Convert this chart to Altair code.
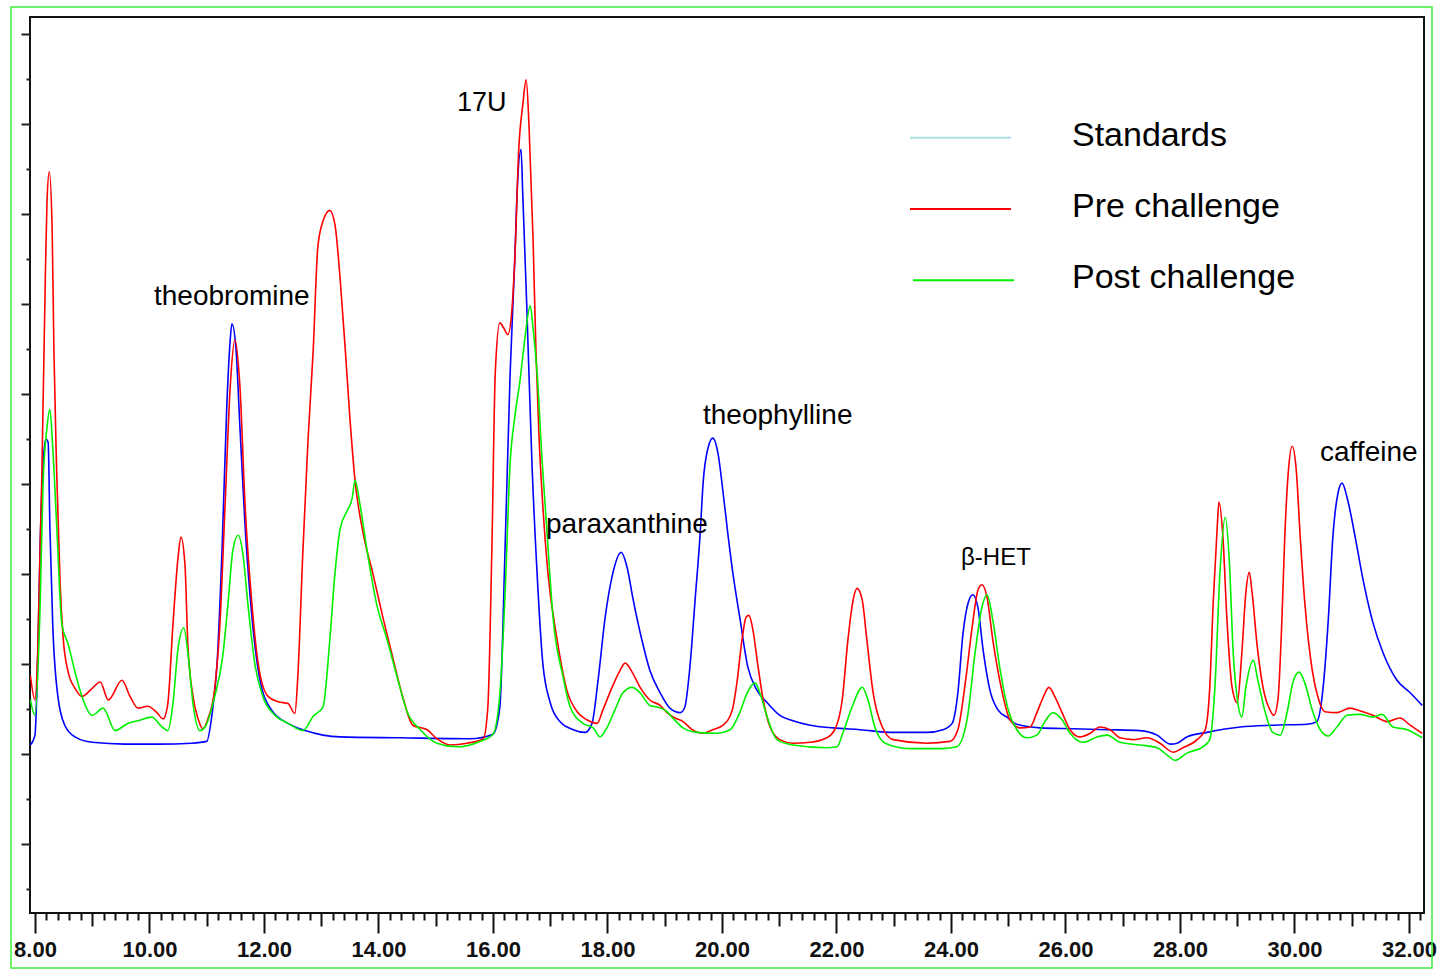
import altair as alt
import pandas as pd

# ---- data (time in min, detector signal in arbitrary units) ----
standards = [
    (7.92, 11.0), (8.00, 12.1), (8.05, 21.3), (8.09, 33.2), (8.14, 42.0), (8.19, 45.0), (8.23, 44.6),
    (8.26, 35.3), (8.31, 24.4), (8.40, 16.4), (8.52, 13.2), (8.70, 11.9), (9.00, 11.3), (9.57, 11.1),
    (10.15, 11.1), (10.74, 11.2), (11.00, 11.4), (11.09, 14.3), (11.18, 20.0), (11.27, 33.2),
    (11.35, 48.6), (11.41, 56.0), (11.44, 57.8), (11.51, 55.1), (11.58, 46.3), (11.67, 35.3),
    (11.79, 25.2), (11.93, 18.2), (12.14, 14.8), (12.42, 13.4), (12.72, 12.6), (13.03, 12.1),
    (13.33, 11.9), (14.38, 11.8), (15.60, 11.7), (16.00, 12.2), (16.12, 15.2), (16.21, 32.6),
    (16.30, 52.4), (16.38, 64.8), (16.42, 72.2), (16.49, 77.2), (16.52, 72.2), (16.59, 59.8),
    (16.68, 42.4), (16.77, 30.1), (16.87, 20.1), (17.00, 15.7), (17.17, 13.6), (17.40, 12.7),
    (17.61, 12.4), (17.73, 13.4), (17.83, 17.9), (17.96, 25.2), (18.08, 29.7), (18.24, 32.4),
    (18.34, 30.8), (18.45, 27.1), (18.60, 22.7), (18.74, 19.3), (18.92, 16.8), (19.09, 15.1),
    (19.27, 14.6), (19.35, 15.2), (19.44, 19.7), (19.53, 27.1), (19.62, 34.6), (19.67, 40.1),
    (19.76, 44.1), (19.84, 45.1), (19.93, 43.4), (20.02, 39.0), (20.10, 34.6), (20.19, 30.1),
    (20.31, 25.2), (20.45, 19.7), (20.61, 17.1), (20.79, 15.7), (21.01, 14.3), (21.24, 13.7),
    (21.54, 13.2), (21.94, 12.9), (22.41, 12.7), (22.99, 12.4), (23.58, 12.4), (23.86, 12.7),
    (24.02, 13.4), (24.12, 16.8), (24.21, 23.4), (24.30, 26.8), (24.38, 27.7), (24.47, 26.3),
    (24.56, 21.6), (24.68, 17.1), (24.82, 14.9), (25.00, 14.0), (25.15, 13.3), (25.56, 12.9),
    (26.13, 12.8), (26.73, 12.7), (27.30, 12.6), (27.60, 12.1), (27.83, 11.1), (27.95, 11.2),
    (28.12, 11.9), (28.47, 12.4), (29.05, 13.0), (29.62, 13.2), (30.22, 13.3), (30.39, 13.6),
    (30.50, 17.4), (30.59, 24.9), (30.67, 34.1), (30.76, 39.0), (30.83, 40.1), (30.93, 38.2),
    (31.06, 34.1), (31.20, 29.3), (31.37, 24.6), (31.55, 21.2), (31.79, 18.2), (32.02, 16.8),
    (32.23, 15.4),
]

pre_challenge = [
    (7.92, 18.7), (8.00, 16.0), (8.05, 21.8), (8.12, 41.1), (8.18, 62.7), (8.21, 71.4), (8.25, 74.7),
    (8.30, 68.3), (8.33, 55.1), (8.38, 41.1), (8.44, 28.8), (8.49, 23.1), (8.58, 19.1), (8.70, 17.3),
    (8.82, 16.4), (9.00, 17.3), (9.14, 18.0), (9.28, 16.0), (9.52, 18.2), (9.66, 16.4), (9.80, 15.1),
    (9.97, 15.3), (10.13, 14.6), (10.24, 13.9), (10.32, 15.6), (10.41, 24.4), (10.50, 31.9),
    (10.55, 34.1), (10.62, 31.0), (10.67, 22.2), (10.76, 16.4), (10.85, 13.9), (10.93, 12.8),
    (11.02, 13.9), (11.14, 17.3), (11.23, 24.4), (11.32, 37.6), (11.41, 50.8), (11.49, 56.0),
    (11.58, 50.8), (11.67, 37.6), (11.79, 26.6), (11.90, 20.0), (12.07, 16.4), (12.25, 15.8),
    (12.42, 15.6), (12.54, 14.5), (12.59, 18.5), (12.68, 32.6), (12.77, 45.0), (12.86, 54.9),
    (12.94, 66.3), (13.03, 69.2), (13.15, 70.4), (13.24, 68.8), (13.33, 62.8), (13.42, 54.9),
    (13.50, 47.4), (13.59, 40.4), (13.73, 34.6), (13.90, 30.1), (14.08, 25.1), (14.25, 20.7),
    (14.43, 16.2), (14.60, 13.2), (14.85, 12.7), (15.02, 11.7), (15.25, 11.0), (15.55, 11.2),
    (15.83, 11.7), (15.91, 15.2), (15.98, 32.6), (16.04, 52.4), (16.12, 57.9), (16.19, 57.3),
    (16.26, 56.6), (16.33, 59.3), (16.38, 64.8), (16.45, 77.2), (16.52, 82.1), (16.58, 84.9),
    (16.63, 79.7), (16.70, 67.2), (16.75, 54.9), (16.80, 45.9), (16.87, 37.6), (16.96, 30.1),
    (17.12, 22.7), (17.29, 17.1), (17.47, 14.7), (17.64, 13.8), (17.82, 13.4), (17.92, 14.9),
    (18.08, 17.4), (18.22, 19.3), (18.31, 20.1), (18.43, 19.1), (18.57, 17.4), (18.74, 16.0),
    (18.92, 15.4), (19.04, 14.6), (19.18, 14.0), (19.32, 13.6), (19.48, 12.7), (19.65, 12.3),
    (19.84, 12.7), (20.02, 13.2), (20.18, 14.9), (20.26, 17.9), (20.35, 22.7), (20.42, 25.2),
    (20.47, 25.4), (20.54, 23.8), (20.63, 19.7), (20.72, 16.0), (20.84, 13.0), (21.01, 11.6),
    (21.24, 11.2), (21.54, 11.3), (21.83, 11.8), (21.97, 12.7), (22.10, 16.0), (22.20, 22.7),
    (22.29, 27.1), (22.36, 28.4), (22.45, 27.1), (22.53, 22.7), (22.64, 16.8), (22.80, 13.0),
    (22.99, 11.6), (23.58, 11.2), (23.98, 11.4), (24.12, 12.7), (24.25, 17.9), (24.37, 24.1),
    (24.47, 28.2), (24.54, 28.8), (24.63, 27.4), (24.73, 22.7), (24.86, 17.9), (25.03, 13.8),
    (25.21, 12.9), (25.38, 13.0), (25.50, 14.6), (25.61, 16.3), (25.71, 17.4), (25.82, 16.3),
    (25.94, 14.6), (26.08, 12.7), (26.25, 11.9), (26.43, 12.3), (26.60, 13.0), (26.78, 12.7),
    (26.95, 11.8), (27.18, 11.6), (27.42, 11.8), (27.65, 11.2), (27.88, 10.2), (28.05, 10.7),
    (28.30, 11.6), (28.44, 12.7), (28.52, 17.4), (28.58, 26.8), (28.65, 35.2), (28.68, 38.0),
    (28.75, 34.1), (28.82, 24.9), (28.91, 17.4), (29.00, 15.7), (29.08, 21.2), (29.15, 27.9),
    (29.21, 30.2), (29.26, 27.9), (29.35, 21.9), (29.45, 17.4), (29.57, 14.9), (29.64, 14.3),
    (29.71, 16.0), (29.78, 24.9), (29.83, 34.1), (29.89, 41.2), (29.96, 44.2), (30.03, 41.6),
    (30.10, 34.1), (30.18, 26.8), (30.31, 19.3), (30.41, 16.3), (30.53, 14.7), (30.74, 14.6),
    (30.97, 15.1), (31.14, 14.8), (31.37, 14.3), (31.62, 13.6), (31.84, 14.0), (32.02, 13.2),
    (32.23, 12.3),
]

post_challenge = [
    (7.92, 16.0), (8.00, 14.3), (8.09, 26.6), (8.14, 39.8), (8.21, 46.3), (8.26, 48.3), (8.31, 44.1),
    (8.38, 35.3), (8.47, 24.4), (8.58, 22.2), (8.70, 19.1), (8.82, 16.4), (9.00, 14.3), (9.19, 15.1),
    (9.40, 12.6), (9.62, 13.4), (9.80, 13.7), (10.04, 14.1), (10.22, 13.0), (10.32, 12.6),
    (10.41, 15.6), (10.50, 21.8), (10.60, 24.0), (10.67, 21.3), (10.76, 15.6), (10.88, 12.6),
    (10.97, 13.0), (11.14, 16.4), (11.28, 20.9), (11.37, 26.6), (11.46, 32.8), (11.55, 34.3),
    (11.63, 32.3), (11.72, 26.6), (11.84, 20.0), (11.98, 16.4), (12.19, 14.3), (12.42, 13.4),
    (12.68, 12.6), (12.86, 14.2), (13.03, 15.2), (13.15, 22.7), (13.24, 30.1), (13.33, 35.0),
    (13.45, 37.0), (13.54, 38.4), (13.59, 40.4), (13.68, 37.6), (13.80, 32.6), (13.97, 26.6),
    (14.15, 22.7), (14.32, 18.7), (14.50, 14.7), (14.73, 12.7), (15.02, 11.2), (15.37, 10.8),
    (15.77, 11.4), (16.00, 12.2), (16.12, 16.7), (16.21, 27.6), (16.30, 42.4), (16.38, 47.4),
    (16.47, 51.4), (16.56, 56.3), (16.65, 59.8), (16.70, 57.3), (16.77, 52.4), (16.86, 42.4),
    (16.94, 35.0), (17.05, 25.1), (17.22, 18.7), (17.35, 15.2), (17.57, 13.4), (17.75, 12.9),
    (17.87, 11.9), (17.99, 12.9), (18.13, 14.9), (18.27, 16.8), (18.43, 17.4), (18.57, 16.8),
    (18.74, 15.4), (18.88, 15.2), (19.04, 14.7), (19.14, 14.0), (19.32, 12.9), (19.56, 12.4),
    (19.91, 12.3), (20.14, 12.7), (20.31, 14.6), (20.44, 16.8), (20.58, 17.9), (20.66, 16.8),
    (20.79, 14.1), (20.96, 11.6), (21.24, 11.0), (21.83, 10.7), (22.01, 10.8), (22.11, 12.3),
    (22.27, 15.2), (22.45, 17.4), (22.55, 16.0), (22.67, 13.0), (22.85, 11.2), (23.28, 10.6),
    (23.86, 10.6), (24.10, 10.8), (24.28, 13.8), (24.42, 21.2), (24.54, 26.3), (24.63, 27.7),
    (24.73, 24.9), (24.86, 19.3), (25.00, 14.9), (25.15, 12.7), (25.33, 11.8), (25.50, 12.1),
    (25.64, 13.6), (25.78, 14.6), (25.94, 13.8), (26.08, 12.3), (26.31, 11.3), (26.55, 11.9),
    (26.73, 12.1), (26.95, 11.3), (27.30, 11.0), (27.60, 10.7), (27.77, 9.9), (27.91, 9.3),
    (28.12, 10.1), (28.40, 10.8), (28.52, 11.6), (28.61, 17.4), (28.70, 30.4), (28.79, 36.3),
    (28.86, 31.6), (28.93, 21.2), (29.01, 15.7), (29.08, 14.1), (29.15, 17.4), (29.28, 20.4),
    (29.36, 18.2), (29.49, 14.6), (29.62, 12.4), (29.75, 12.1), (29.87, 14.6), (29.97, 17.9),
    (30.08, 19.1), (30.18, 17.9), (30.31, 14.9), (30.45, 12.7), (30.59, 12.0), (30.74, 13.0),
    (30.92, 14.3), (31.14, 14.4), (31.37, 14.1), (31.53, 14.4), (31.72, 13.0), (31.97, 12.7),
    (32.23, 11.8),
]

series_names = ["Standards", "Pre challenge", "Post challenge"]
line_colors = ["#0000ff", "#ff0000", "#00f000"]
legend_colors = ["#a9dfe6", "#ff0000", "#00f000"]

peak_labels = ["17U", "theobromine", "theophylline", "paraxanthine", "\u03b2-HET", "caffeine"]

x_tick_values = [round(8 + 0.2 * i, 1) for i in range(122)]
y_tick_values = list(range(-5, 95, 5))

X_DOMAIN = [7.913, 32.262]
Y_DOMAIN = [-7.667, 91.889]


def to_frame(points):
    return pd.DataFrame({
        "time": [p[0] for p in points],
        "signal": [p[1] for p in points],
        "idx": list(range(len(points))),
    })


even_test = "abs(datum.value / 2 - round(datum.value / 2)) < 0.001"
odd_test = "abs(datum.value - round(datum.value)) < 0.001"

x_axis = alt.Axis(
    values=x_tick_values,
    tickCount=500,
    title=None,
    grid=False,
    domain=False,
    tickColor="#111111",
    tickWidth=2,
    tickSize={"condition": [{"test": even_test, "value": 20},
                            {"test": odd_test, "value": 13}], "value": 7},
    labelExpr=f"{even_test} ? format(datum.value, '.2f') : ''",
    labelFont="Liberation Sans",
    labelFontSize=22,
    labelFontWeight="bold",
    labelColor="#111111",
    labelPadding=6,
    labelOverlap=False,
    labelFlush=False,
)

y_axis = alt.Axis(
    values=y_tick_values,
    tickCount=500,
    title=None,
    grid=False,
    domain=False,
    labels=False,
    tickColor="#222222",
    tickWidth=2,
    tickSize={"condition": {"test": "datum.value % 10 == 0", "value": 9}, "value": 4},
)

x_scale = alt.Scale(domain=X_DOMAIN, nice=False, zero=False)
y_scale = alt.Scale(domain=Y_DOMAIN, nice=False, zero=False)


def line_layer(points, color, with_axes):
    if with_axes:
        x_enc = alt.X("time:Q", scale=x_scale, axis=x_axis)
        y_enc = alt.Y("signal:Q", scale=y_scale, axis=y_axis)
    else:
        x_enc = alt.X("time:Q", scale=x_scale)
        y_enc = alt.Y("signal:Q", scale=y_scale)
    return alt.Chart(to_frame(points)).mark_line(
        color=color, strokeWidth=1.6, clip=True, interpolate="monotone"
    ).encode(x=x_enc, y=y_enc, order="idx:Q")


lines = [
    line_layer(standards, line_colors[0], True),
    line_layer(pre_challenge, line_colors[1], False),
    line_layer(post_challenge, line_colors[2], False),
]

# outer green frame around the whole figure
frame = alt.Chart(pd.DataFrame({"a": [0]})).mark_rect(
    filled=False, stroke="#3cf03c", strokeWidth=1.5, clip=False
).encode(x=alt.value(-19), x2=alt.value(1402), y=alt.value(-10), y2=alt.value(951))

# peak annotations (pixel placement inside the plot area)
label_pos = [(427, 94, 27), (124, 288, 28), (673, 407, 28), (516, 516, 28), (931, 548, 24), (1290, 444, 28)]
annotations = []
for text, (px, py, fs) in zip(peak_labels, label_pos):
    annotations.append(
        alt.Chart(pd.DataFrame({"label": [text]})).mark_text(
            align="left", baseline="alphabetic", font="Liberation Sans", fontSize=fs,
            color="#000000", clip=False
        ).encode(x=alt.value(px), y=alt.value(py), text="label:N")
    )

# manual legend (the standards swatch is pale cyan in the original)
legend_layers = []
legend_rows = [(880, 981, 120.7, 129), (880, 981, 192, 200), (883, 984, 263.3, 271)]
for name, col, (x1, x2, ly, ty) in zip(series_names, legend_colors, legend_rows):
    legend_layers.append(
        alt.Chart(pd.DataFrame({"a": [0]})).mark_rule(color=col, strokeWidth=2, clip=False)
        .encode(x=alt.value(x1), x2=alt.value(x2), y=alt.value(ly))
    )
    legend_layers.append(
        alt.Chart(pd.DataFrame({"label": [name]})).mark_text(
            align="left", baseline="alphabetic", font="Liberation Sans", fontSize=34,
            color="#000000", clip=False
        ).encode(x=alt.value(1042), y=alt.value(ty), text="label:N")
    )

chart = alt.layer(*lines, frame, *annotations, *legend_layers).properties(
    width=1394,
    height=896,
    padding={"left": 30, "top": 17, "right": 13, "bottom": 57},
    autosize=alt.AutoSizeParams(type="none"),
    background="white",
).configure_view(stroke="#111111", strokeWidth=2)

chart.save("out.html", embed_options={"renderer": "svg", "actions": False})
